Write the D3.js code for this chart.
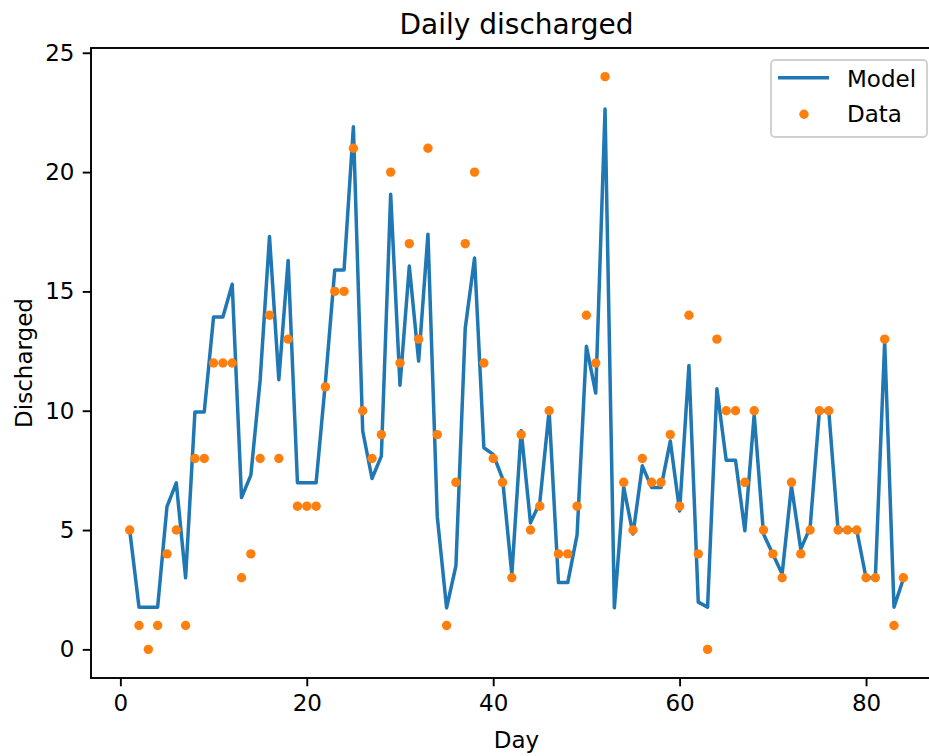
<!DOCTYPE html>
<html>
<head>
<meta charset="utf-8">
<script src="https://cdn.jsdelivr.net/npm/d3@7"></script>
<style>
  html, body { margin: 0; padding: 0; background: #fff; }
  svg { display: block; font-family: "DejaVu Sans", sans-serif; }
</style>
</head>
<body>
<div id="chart"></div>
<script>
// 数据：每日出院人数（散点）与模型（折线）
const days = d3.range(1, 85);
const discharged = [
  5, 1, 0, 1, 4, 5, 1, 8, 8, 12, 12, 12, 3, 4, 8, 14, 8, 13, 6, 6,
  6, 11, 15, 15, 21, 10, 8, 9, 20, 12, 17, 13, 21, 9, 1, 7, 17, 20, 12, 8,
  7, 3, 9, 5, 6, 10, 4, 4, 6, 14, 12, 24, null, 7, 5, 8, 7, 7, 9, 6,
  14, 4, 0, 13, 10, 10, 7, 10, 5, 4, 3, 7, 4, 5, 10, 10, 5, 5, 5, 3,
  3, 13, 1, 3
];
const model = [
  5.0, 1.77, 1.77, 1.77, 5.98, 6.98, 3.0, 9.95, 9.95, 13.93, 13.93, 15.3, 6.36, 7.3, 11.3, 17.3, 11.3, 16.3, 6.98, 6.98,
  6.98, 11.2, 15.9, 15.9, 21.9, 9.15, 7.16, 8.1, 19.07, 11.07, 16.06, 12.08, 17.4, 5.56, 1.74, 3.5, 13.46, 16.4, 8.45, 8.17,
  7.16, 3.13, 9.17, 5.3, 6.15, 10.0, 2.8, 2.8, 4.8, 12.7, 10.74, 22.64, 1.74, 6.8, 4.83, 7.69, 6.78, 6.78, 8.73, 5.8,
  11.9, 1.98, 1.77, 10.92, 7.92, 7.92, 4.97, 9.85, 4.83, 4.0, 3.16, 6.85, 4.2, 5.1, 10.0, 10.0, 5.0, 5.0, 5.0, 3.0,
  3.0, 12.9, 1.77, 2.95
];
const xTicks = [0, 20, 40, 60, 80];
const yTicks = [0, 5, 10, 15, 20, 25];
const legendLabels = ['Model', 'Data'];

const width = 929;
const height = 756;
// 坐标轴区域（右边框超出画布，被裁掉）
const plot = { left: 91, right: 942, top: 48, bottom: 678 };
const fontSize = 23;
const tickLen = 8.3;
const blue = '#1f77b4';
const orange = '#ff7f0e';

const svg = d3.select('#chart')
  .append('svg')
  .attr('width', width)
  .attr('height', height);

svg.append('rect')
  .attr('width', width)
  .attr('height', height)
  .attr('fill', '#fff');

// 比例尺（matplotlib 默认 5% 边距）
const xPad = (d3.max(days) - d3.min(days)) * 0.05;
const x = d3.scaleLinear()
  .domain([d3.min(days) - xPad, d3.max(days) + xPad])
  .range([plot.left, plot.right]);

const yVals = discharged.filter(v => v != null).concat(model);
const yPad = (d3.max(yVals) - d3.min(yVals)) * 0.05;
const y = d3.scaleLinear()
  .domain([d3.min(yVals) - yPad, d3.max(yVals) + yPad])
  .range([plot.bottom, plot.top]);

// 模型折线
const line = d3.line()
  .x((d, i) => x(days[i]))
  .y(d => y(d));

svg.append('path')
  .datum(model)
  .attr('fill', 'none')
  .attr('stroke', blue)
  .attr('stroke-width', 3.5)
  .attr('stroke-linejoin', 'round')
  .attr('d', line);

// 数据散点
svg.append('g')
  .selectAll('circle')
  .data(days.map((d, i) => ({ day: d, value: discharged[i] })).filter(d => d.value != null))
  .enter()
  .append('circle')
  .attr('cx', d => x(d.day))
  .attr('cy', d => y(d.value))
  .attr('r', 4.7)
  .attr('fill', orange);

// 边框
svg.append('rect')
  .attr('x', plot.left)
  .attr('y', plot.top)
  .attr('width', plot.right - plot.left)
  .attr('height', plot.bottom - plot.top)
  .attr('fill', 'none')
  .attr('stroke', '#000')
  .attr('stroke-width', 1.9);

// 坐标轴
const xAxis = svg.append('g')
  .attr('transform', `translate(0,${plot.bottom})`)
  .call(d3.axisBottom(x).tickValues(xTicks).tickSize(tickLen).tickPadding(8.3).tickFormat(d3.format('d')));

const yAxis = svg.append('g')
  .attr('transform', `translate(${plot.left},0)`)
  .call(d3.axisLeft(y).tickValues(yTicks).tickSize(tickLen).tickPadding(8.3).tickFormat(d3.format('d')));

[xAxis, yAxis].forEach(a => {
  a.select('.domain').remove();
  a.selectAll('line').attr('stroke', '#000').attr('stroke-width', 1.9);
  a.selectAll('text')
    .attr('fill', '#000')
    .style('font-family', '"DejaVu Sans", sans-serif')
    .style('font-size', fontSize + 'px');
});

// 标题和轴标签
svg.append('text')
  .attr('x', (plot.left + plot.right) / 2)
  .attr('y', 34)
  .attr('text-anchor', 'middle')
  .style('font-size', '28px')
  .attr('fill', '#000')
  .text('Daily discharged');

svg.append('text')
  .attr('x', (plot.left + plot.right) / 2)
  .attr('y', 748)
  .attr('text-anchor', 'middle')
  .style('font-size', fontSize + 'px')
  .attr('fill', '#000')
  .text('Day');

svg.append('text')
  .attr('transform', `translate(32,${(plot.top + plot.bottom) / 2}) rotate(-90)`)
  .attr('text-anchor', 'middle')
  .style('font-size', fontSize + 'px')
  .attr('fill', '#000')
  .text('Discharged');

// 图例
const legend = svg.append('g').attr('transform', 'translate(771,60)');

legend.append('rect')
  .attr('width', 156)
  .attr('height', 77)
  .attr('rx', 4)
  .attr('fill', '#fff')
  .attr('fill-opacity', 0.8)
  .attr('stroke', '#d0d0d0')
  .attr('stroke-width', 1.9);

legend.append('line')
  .attr('x1', 7).attr('x2', 58)
  .attr('y1', 17.7).attr('y2', 17.7)
  .attr('stroke', blue)
  .attr('stroke-width', 3.5);

legend.append('circle')
  .attr('cx', 33)
  .attr('cy', 54.3)
  .attr('r', 4.7)
  .attr('fill', orange);

legend.selectAll('text.item')
  .data(legendLabels)
  .enter()
  .append('text')
  .attr('class', 'item')
  .attr('x', 76)
  .attr('y', (d, i) => 26.5 + i * 35)
  .style('font-size', fontSize + 'px')
  .attr('fill', '#000')
  .text(d => d);
</script>
</body>
</html>
